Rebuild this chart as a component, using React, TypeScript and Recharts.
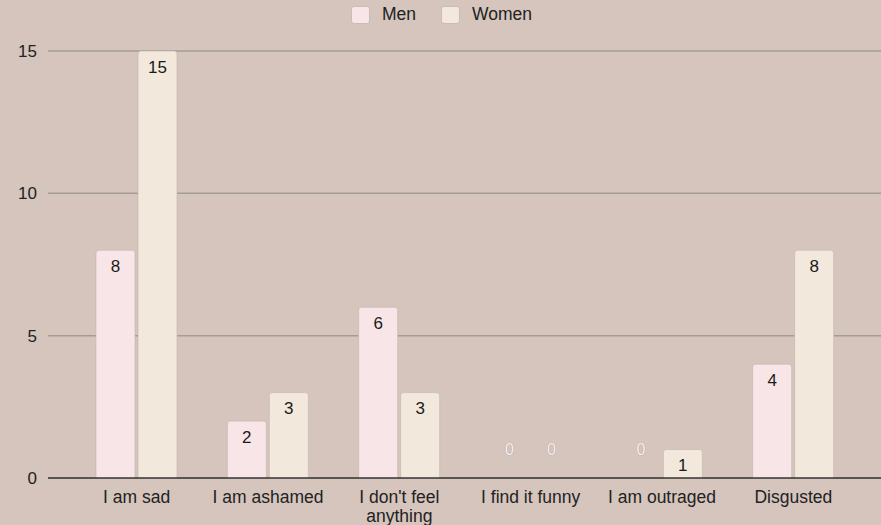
import React from "react";
import { BarChart, Bar, XAxis, YAxis, CartesianGrid, LabelList, Text, Rectangle } from "recharts";

const categories = ["I am sad", "I am ashamed", "I don't feel anything", "I find it funny", "I am outraged", "Disgusted"];
const menValues = [8, 2, 6, 0, 0, 4];
const womenValues = [15, 3, 3, 0, 1, 8];
const yTicks = [0, 5, 10, 15];
const seriesNames = ["Men", "Women"];

const data = categories.map((c, i) => ({ name: c, men: menValues[i], women: womenValues[i] }));

const FONT = "'Liberation Sans', Arial, sans-serif";
const BG = "#d5c5bd";
const MEN = "#f8e5e7";
const WOMEN = "#f3e8dc";
const COLORS = [MEN, WOMEN];

const ValueLabel = (props: any) => {
  const { x, y, width, value } = props;
  if (!value) return null;
  const cx = x + width / 2;
  return (
    <text x={cx} y={y + 16} textAnchor="middle" dominantBaseline="central" fontFamily={FONT} fontSize={17} fill="#1a1a1a">
      {value}
    </text>
  );
};

const BarShape = (props: any) => {
  const { x, y, width, height, value } = props;
  const v = Array.isArray(value) ? value[1] - value[0] : value;
  if (!v) {
    const base = y + (height || 0);
    return (
      <g>
        <text x={x + width / 2} y={base - 29} textAnchor="middle" dominantBaseline="central"
          style={{ fontFamily: FONT, fontSize: 16, fill: "#f6f0ed", stroke: "#a99b95", strokeWidth: 0.7, paintOrder: "stroke" }}>0</text>
      </g>
    );
  }
  return <Rectangle {...props} />;
};

const XTick = (props: any) => {
  const { x, y, payload } = props;
  return (
    <Text x={x} y={y + 5} width={125} textAnchor="middle" verticalAnchor="start" fontFamily={FONT} fontSize={17.5} fill="#222" lineHeight={19}>
      {payload.value}
    </Text>
  );
};

const LegendBox = () => (
  <div style={{ position: "absolute", left: 0, top: 4, width: 881, display: "flex", justifyContent: "center", alignItems: "center", fontFamily: FONT, fontSize: 17.5, color: "#222", paddingLeft: 2, boxSizing: "border-box" }}>
    {seriesNames.map((n, i) => (
      <div key={n} style={{ display: "flex", alignItems: "center", marginRight: i === 0 ? 25 : 0 }}>
        <div style={{ width: 19, height: 18, background: COLORS[i], borderRadius: 3, border: "1px solid #cdbcb5", marginRight: 12, boxSizing: "border-box" }} />
        <span>{n}</span>
      </div>
    ))}
  </div>
);

export default function App() {
  return (
    <div style={{ position: "absolute", left: 0, top: 0, width: 881, height: 525, background: BG }}>
      <BarChart width={881} height={525} data={data} margin={{ top: 51, right: 0, bottom: 0, left: 0 }}
        barCategoryGap={26} barGap={3}>
        <CartesianGrid vertical={false} stroke="#a49c99" strokeWidth={1.5} />
        <XAxis dataKey="name" interval={0} tick={<XTick />} tickLine={false} axisLine={{ stroke: "#3a3a3a", strokeWidth: 1.5 }}
          height={47} padding={{ left: 23, right: 22 }} />
        <YAxis domain={[0, 15]} ticks={yTicks} width={48} tickLine={false} axisLine={false} tickSize={0} tickMargin={11}
          tick={{ fontFamily: FONT, fontSize: 17, fill: "#222" }} />
        <Bar dataKey="men" name="Men" fill={MEN} stroke="#c4b3ad" strokeWidth={0.6} radius={[3, 3, 0, 0]} isAnimationActive={false} barSize={39} shape={<BarShape />}>
          <LabelList dataKey="men" content={<ValueLabel />} />
        </Bar>
        <Bar dataKey="women" name="Women" fill={WOMEN} stroke="#c4b3ad" strokeWidth={0.6} radius={[3, 3, 0, 0]} isAnimationActive={false} barSize={39} shape={<BarShape />}>
          <LabelList dataKey="women" content={<ValueLabel />} />
        </Bar>
      </BarChart>
      <LegendBox />
    </div>
  );
}
